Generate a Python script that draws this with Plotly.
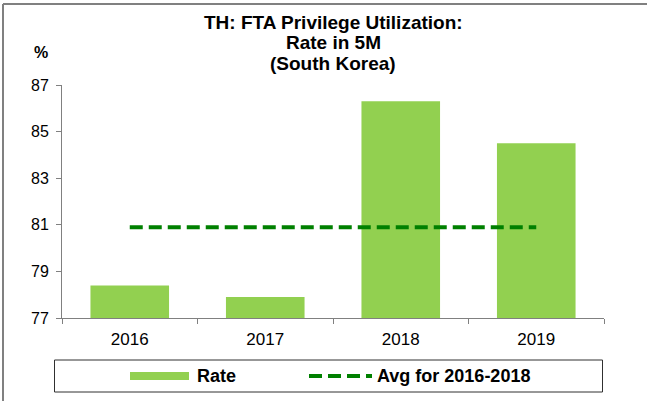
import plotly.graph_objects as go

# Data
years = ["2016", "2017", "2018", "2019"]
rate = [78.4, 77.9, 86.3, 84.5]
avg_2016_2018 = [80.9, 80.9, 80.9, 80.9]
y_ticks = [77, 79, 81, 83, 85, 87]
title_lines = ["TH: FTA Privilege Utilization:", "Rate in 5M", "(South Korea)"]

BAR_COLOR = "#92D050"
AVG_COLOR = "#008000"
AXIS_COLOR = "#808080"
FONT = "Arial, Liberation Sans, sans-serif"

W, H = 647, 401
L, R, T, B = 62, 43, 85, 83


def px_x(px):
    return (px - L) / (W - L - R)


def px_y(py):
    return (H - B - py) / (H - T - B)


fig = go.Figure()
fig.add_trace(go.Bar(
    x=years, y=rate, name="Rate",
    marker=dict(color=BAR_COLOR, line=dict(width=0)),
    showlegend=False,
))
fig.add_trace(go.Scatter(
    x=years, y=avg_2016_2018, name="Avg for 2016-2018", mode="lines",
    line=dict(color=AVG_COLOR, width=4, dash="13px,6px"),
    showlegend=False,
))

shapes = [
    # outer frame (top and left edges)
    dict(type="line", xref="paper", yref="paper",
         x0=px_x(3), x1=px_x(660), y0=px_y(4), y1=px_y(4),
         line=dict(color=AXIS_COLOR, width=2)),
    dict(type="line", xref="paper", yref="paper",
         x0=px_x(3), x1=px_x(3), y0=px_y(4), y1=px_y(410),
         line=dict(color=AXIS_COLOR, width=2)),
    # legend box
    dict(type="rect", xref="paper", yref="paper",
         x0=px_x(54.5), x1=px_x(602.5), y0=px_y(360), y1=px_y(392),
         line=dict(color="#303030", width=1), fillcolor="white"),
    # legend swatches
    dict(type="rect", xref="paper", yref="paper",
         x0=px_x(130), x1=px_x(189), y0=px_y(372), y1=px_y(380),
         line=dict(width=0), fillcolor=BAR_COLOR),
    dict(type="line", xref="paper", yref="paper",
         x0=px_x(309), x1=px_x(372), y0=px_y(376), y1=px_y(376),
         line=dict(color=AVG_COLOR, width=4, dash="13px,6px")),
]

annotations = [
    dict(text="<b>%</b>", xref="paper", yref="paper", x=px_x(41), y=px_y(53),
         showarrow=False, font=dict(family=FONT, size=16, color="black"),
         xanchor="center", yanchor="middle"),
    dict(text="<b>Rate</b>", xref="paper", yref="paper", x=px_x(195), y=px_y(376),
         showarrow=False, font=dict(family=FONT, size=18, color="black"),
         xanchor="left", yanchor="middle"),
    dict(text="<b>Avg for 2016-2018</b>", xref="paper", yref="paper",
         x=px_x(375), y=px_y(376),
         showarrow=False, font=dict(family=FONT, size=18, color="black"),
         xanchor="left", yanchor="middle"),
]

# Title, one annotation per line for tight line spacing
for line, cy in zip(title_lines, [23, 43, 63]):
    annotations.append(dict(
        text=f"<b>{line}</b>", xref="paper", yref="paper",
        x=px_x(333), y=px_y(cy), showarrow=False,
        font=dict(family=FONT, size=19, color="black"),
        xanchor="center", yanchor="middle",
    ))

fig.update_layout(
    width=W, height=H,
    margin=dict(l=L, r=R, t=T, b=B, pad=0),
    paper_bgcolor="white", plot_bgcolor="white",
    font=dict(family=FONT, size=16, color="black"),
    bargap=0.42,
    showlegend=False,
    shapes=shapes,
    annotations=annotations,
)
fig.update_xaxes(
    type="category", showgrid=False,
    showline=True, linecolor=AXIS_COLOR, linewidth=1,
    ticks="outside", tickson="boundaries", ticklen=5, tickcolor=AXIS_COLOR,
    ticklabelstandoff=6,
    tickfont=dict(family=FONT, size=17, color="black"),
)
fig.update_yaxes(
    range=[77, 87], tickvals=y_ticks, showgrid=False, zeroline=False,
    showline=True, linecolor=AXIS_COLOR, linewidth=1,
    ticks="outside", ticklen=5, tickcolor=AXIS_COLOR,
    ticklabelstandoff=4,
    tickfont=dict(family=FONT, size=16, color="black"),
)

fig.write_html("out.html")
